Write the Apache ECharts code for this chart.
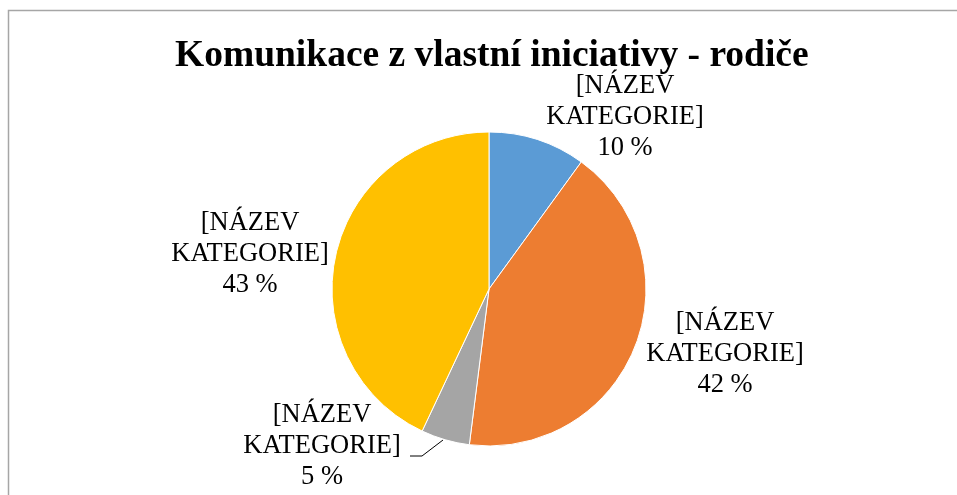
<!DOCTYPE html>
<html>
<head>
<meta charset="utf-8">
<script src="https://cdn.jsdelivr.net/npm/echarts@6/dist/echarts.min.js"></script>
<style>
  html, body { margin: 0; padding: 0; background: #fff; }
  #main { width: 957px; height: 495px; }
</style>
</head>
<body>
<div id="main"></div>
<script>
// data
var categories = ['[NÁZEV KATEGORIE]', '[NÁZEV KATEGORIE]', '[NÁZEV KATEGORIE]', '[NÁZEV KATEGORIE]'];
var values = [10, 42, 5, 43];
var colors = ['#5b9bd5', '#ed7d31', '#a5a5a5', '#ffc000'];

// label placement (text centre) for each slice
var labelPos = [[625, 117], [725, 354], [322, 446], [250, 254]];

var chart = echarts.init(document.getElementById('main'));

var option = {
  animation: false,
  title: {
    text: 'Komunikace z vlastní iniciativy - rodiče',
    left: 170,
    top: 32,
    textStyle: {
      fontFamily: 'Liberation Serif',
      fontWeight: 'bold',
      fontSize: 37.5,
      color: '#000'
    }
  },
  graphic: [{
    type: 'rect',
    shape: { x: 8.5, y: 10.5, width: 1000, height: 600 },
    style: { fill: 'none', stroke: '#a6a6a6', lineWidth: 1.5 },
    silent: true
  }],
  series: [{
    type: 'pie',
    center: [489, 289],
    radius: [0, 157],
    startAngle: 90,
    clockwise: true,
    data: values.map(function (v, i) {
      return { name: categories[i], value: v, itemStyle: { color: colors[i] } };
    }),
    itemStyle: { borderColor: '#fff', borderWidth: 1 },
    label: {
      show: true,
      position: 'outside',
      fontFamily: 'Liberation Serif',
      fontSize: 26.5,
      lineHeight: 31,
      color: '#000',
      align: 'center',
      formatter: function (p) {
        return p.name.replace(' ', '\n') + '\n' + Math.round(p.percent) + ' %';
      }
    },
    labelLine: {
      show: true,
      length: 10,
      length2: 10,
      lineStyle: { color: '#000', width: 1 }
    },
    labelLayout: function (p) {
      var pos = labelPos[p.dataIndex];
      var res = {
        x: pos[0],
        y: pos[1],
        align: 'center',
        verticalAlign: 'middle'
      };
      if (p.dataIndex === 2) {
        res.labelLinePoints = [[443, 440], [422, 456], [410, 456]];
      } else {
        res.labelLinePoints = [[0, 0], [0, 0], [0, 0]];
      }
      return res;
    }
  }]
};

chart.setOption(option);
</script>
</body>
</html>
